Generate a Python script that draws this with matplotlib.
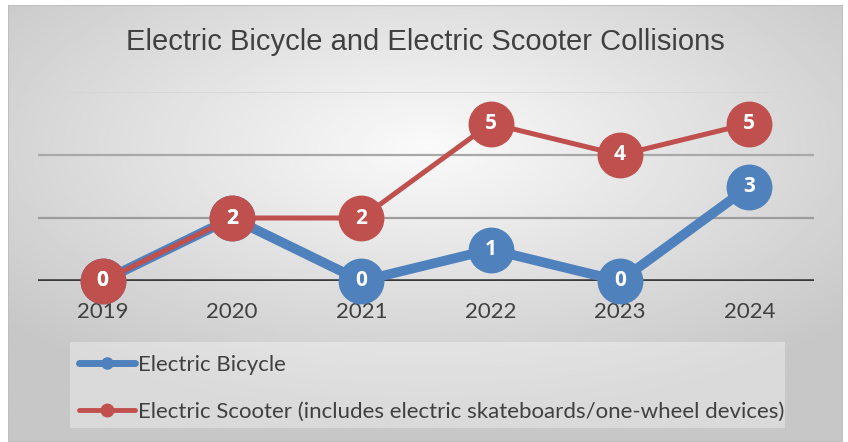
import matplotlib.pyplot as plt
from matplotlib.lines import Line2D
from matplotlib.patches import Rectangle
import numpy as np

years = ['2019', '2020', '2021', '2022', '2023', '2024']
bicycle = [0, 2, 0, 1, 0, 3]
scooter = [0, 2, 2, 5, 4, 5]
bike_label = 'Electric Bicycle'
scoot_label = 'Electric Scooter (includes electric skateboards/one-wheel devices)'

blue = '#4f81bd'
red = '#c0504d'

fig = plt.figure(figsize=(8.48, 4.42), dpi=100)

# gradient background (radial, lighter toward top centre)
bg = fig.add_axes([8/848, 0, 835/848, 437/442], zorder=-10)
gx, gy = np.meshgrid(np.linspace(-1, 1, 400), np.linspace(-1, 1, 200))
r = np.sqrt(gx**2 + ((gy - 0.35) * 1.1)**2)
bg.imshow(0.98 - 0.2 * np.clip(r / 1.35, 0, 1), cmap='gray', vmin=0, vmax=1,
          aspect='auto', extent=[0, 1, 0, 1], origin='lower')
bg.set_axis_off()
bg.add_patch(Rectangle((0, 0), 1, 1, fill=False, ec='#bfbfbf', lw=1.5,
                       transform=bg.transAxes))

ax = fig.add_axes([38/848, (442-281)/442, (814-38)/848, (281-92)/442])
ax.patch.set_alpha(0)
x = np.arange(len(years))

for yv, c, lw in [(2, '#9c9c9c', 1.6), (4, '#a8a8a8', 1.6), (6, '#d6d6d6', 1.2)]:
    ax.axhline(yv, color=c, lw=lw, zorder=1)
ax.axhline(0, color='#3a3a3a', lw=2.6, zorder=1)

ax.plot(x, bicycle, color=blue, lw=7, marker='o', ms=32, solid_capstyle='round',
        zorder=3, clip_on=False)
ax.plot(x, scooter, color=red, lw=3.6, marker='o', ms=32, zorder=4, clip_on=False)

for xi, v in zip(x, bicycle):
    ax.text(xi, v, str(v), color='white', fontsize=15, fontweight='bold',
            family='Open Sans', ha='center', va='center', zorder=5)
for xi, v in zip(x, scooter):
    ax.text(xi, v, str(v), color='white', fontsize=15, fontweight='bold',
            family='Open Sans', ha='center', va='center', zorder=6)

ax.set_xlim(-0.5, 5.5)
ax.set_ylim(0, 6)
ax.set_yticks([])
ax.set_xticks(x)
ax.set_xticklabels(years, fontsize=16, color='#404040', family='Lato')
ax.tick_params(axis='x', length=0, pad=15)
for s in ax.spines.values():
    s.set_visible(False)

fig.text(425/848, 1 - 42/442, 'Electric Bicycle and Electric Scooter Collisions',
         ha='center', va='center', fontsize=21, color='#404040',
         family='Liberation Sans')

# legend box
fig.patches.append(Rectangle((70/848, (442-428)/442), (785-70)/848, 86/442,
                             transform=fig.transFigure, fc='white', alpha=0.35,
                             ec='none', zorder=0))
handles = [Line2D([], [], color=blue, lw=5, marker='o', ms=8, solid_capstyle='round'),
           Line2D([], [], color=red, lw=3.5, marker='o', ms=9, solid_capstyle='round')]
fig.legend(handles, [bike_label, scoot_label], loc='upper left',
           bbox_to_anchor=(68/848, 1 - 344/442), frameon=False,
           prop={'family': 'Lato', 'size': 16}, labelcolor='#404040',
           handlelength=2.5, handletextpad=0.15, labelspacing=1.2, borderpad=0)

fig.savefig('out.png', dpi=100)
